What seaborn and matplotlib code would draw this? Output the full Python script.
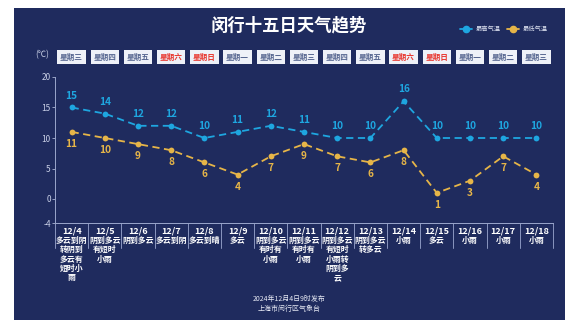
import matplotlib
matplotlib.use("Agg")
import matplotlib.pyplot as plt
import matplotlib.transforms as mtransforms
from matplotlib.patches import Rectangle
from matplotlib.lines import Line2D
import seaborn as sns
import pandas as pd

sns.set_theme(style="white")
plt.rcParams['font.family'] = ['Noto Sans CJK SC', 'DejaVu Sans']

dates = ["12/4", "12/5", "12/6", "12/7", "12/8", "12/9", "12/10", "12/11",
         "12/12", "12/13", "12/14", "12/15", "12/16", "12/17", "12/18"]
weekdays = ["星期三", "星期四", "星期五", "星期六", "星期日", "星期一", "星期二", "星期三",
            "星期四", "星期五", "星期六", "星期日", "星期一", "星期二", "星期三"]
weather = ["多云到阴\n转阴到\n多云有\n短时小\n雨", "阴到多云\n有短时\n小雨", "阴到多云", "多云到阴",
           "多云到晴", "多云", "阴到多云\n有时有\n小雨", "阴到多云\n有时有\n小雨",
           "阴到多云\n有短时\n小雨转\n阴到多\n云", "阴到多云\n转多云", "小雨", "多云", "小雨", "小雨", "小雨"]
high = [15, 14, 12, 12, 10, 11, 12, 11, 10, 10, 16, 10, 10, 10, 10]
low = [11, 10, 9, 8, 6, 4, 7, 9, 7, 6, 8, 1, 3, 7, 4]
yticks = [-4, 0, 5, 10, 15, 20]

W, H = 578, 335
fig = plt.figure(figsize=(W / 100, H / 100), dpi=100)
fig.patch.set_facecolor("white")

navy = "#1f2b5e"
blue = "#1ea6e0"
gold = "#e6b548"

# background panel
bg = fig.add_axes([0, 0, 1, 1], zorder=-10)
bg.set_axis_off()
bg.set_xlim(0, 1)
bg.set_ylim(0, 1)
bg.add_patch(Rectangle((14 / W, 1 - 320 / H), (565 - 14) / W, (320 - 8) / H,
                       facecolor=navy, edgecolor="none"))

ax = fig.add_axes([55 / W, 1 - 223.4 / H, (553 - 55) / W, (223.4 - 77) / H], zorder=1)
ax.set_facecolor("none")

df = pd.DataFrame({"x": list(range(len(dates))), "high": high, "low": low})
sns.lineplot(data=df, x="x", y="high", ax=ax, color=blue, linestyle=(0, (4, 2.5)),
             linewidth=1.3, marker="o", markersize=4.2, markeredgewidth=0)
sns.lineplot(data=df, x="x", y="low", ax=ax, color=gold, linestyle=(0, (4, 2.5)),
             linewidth=1.3, marker="o", markersize=4.2, markeredgewidth=0)

ax.set_xlim(-0.5, len(dates) - 0.5)
ax.set_ylim(-4, 20)
ax.set_yticks(yticks)
ax.set_yticklabels([str(t) for t in yticks], color="#c8cfe6", fontsize=6)
ax.set_xticks([])
ax.set_xlabel("")
ax.set_ylabel("")
ax.tick_params(axis="y", left=True, length=2, width=0.6, color="#aab4d4", pad=1)
for s in ["top", "right"]:
    ax.spines[s].set_visible(False)
ax.spines["left"].set_color("#9aa6cc")
ax.spines["left"].set_linewidth(0.7)
ax.spines["bottom"].set_color("#9aa6cc")
ax.spines["bottom"].set_linewidth(0.7)

for i, (h, l) in enumerate(zip(high, low)):
    ax.annotate(str(h), (i, h), xytext=(0, 5), textcoords="offset points", ha="center",
                va="bottom", color=blue, fontsize=7.3, fontweight="bold")
    ax.annotate(str(l), (i, l), xytext=(0, -5), textcoords="offset points", ha="center",
                va="top", color=gold, fontsize=7.3, fontweight="bold")

# label grid below axis
bt = mtransforms.blended_transform_factory(ax.transData, fig.transFigure)
y_top = 1 - 223.4 / H
y_bot = 1 - 248 / H
for k in range(len(dates) + 1):
    ax.add_line(Line2D([k - 0.5, k - 0.5], [y_top, y_bot], transform=bt, color="#8a96c0",
                       linewidth=0.7, clip_on=False))

for i, (d, wtx, wd) in enumerate(zip(dates, weather, weekdays)):
    ax.text(i, 1 - 231 / H, d, transform=bt, ha="center", va="center", color="white",
            fontsize=6.5, fontweight="bold")
    for j, line in enumerate(wtx.split("\n")):
        ax.text(i, 1 - (240.5 + 9.3 * j) / H, line, transform=bt, ha="center", va="center",
                color="white", fontsize=5.7, fontweight="bold")
    red = wd in ("星期六", "星期日")
    ax.text(i, 1 - 57 / H, wd, transform=bt, ha="center", va="center",
            color="#e8342c" if red else "#566690", fontsize=5.5, fontweight="bold",
            bbox=dict(boxstyle="square,pad=0.35", facecolor="#eef1f8", edgecolor="none"))

fig.text(42 / W, 1 - 55 / H, "(℃)", ha="center", va="center", color="#c8cfe6", fontsize=6)

fig.text(289 / W, 1 - 25 / H, "闵行十五日天气趋势", ha="center", va="center", color="white",
         fontsize=12.5, fontweight="bold")

# legend
handles = [Line2D([0], [0], color=blue, linewidth=1.3, marker="o", markersize=4.5),
           Line2D([0], [0], color=gold, linewidth=1.3, marker="o", markersize=4.5)]
leg = fig.legend(handles, ["最高气温", "最低气温"], loc="center right",
                 bbox_to_anchor=(553 / W, 1 - 29 / H), ncol=2, frameon=False, fontsize=4.5,
                 handlelength=2, columnspacing=1.0, handletextpad=0.5)
for t in leg.get_texts():
    t.set_color("#dfe4f2")

fig.text(289 / W, 1 - 299 / H, "2024年12月4日9时发布", ha="center", va="center",
         color="#e6e9f4", fontsize=5)
fig.text(289 / W, 1 - 309 / H, "上海市闵行区气象台", ha="center", va="center",
         color="#e6e9f4", fontsize=5)

fig.savefig("out.png", dpi=100, facecolor=fig.get_facecolor())
